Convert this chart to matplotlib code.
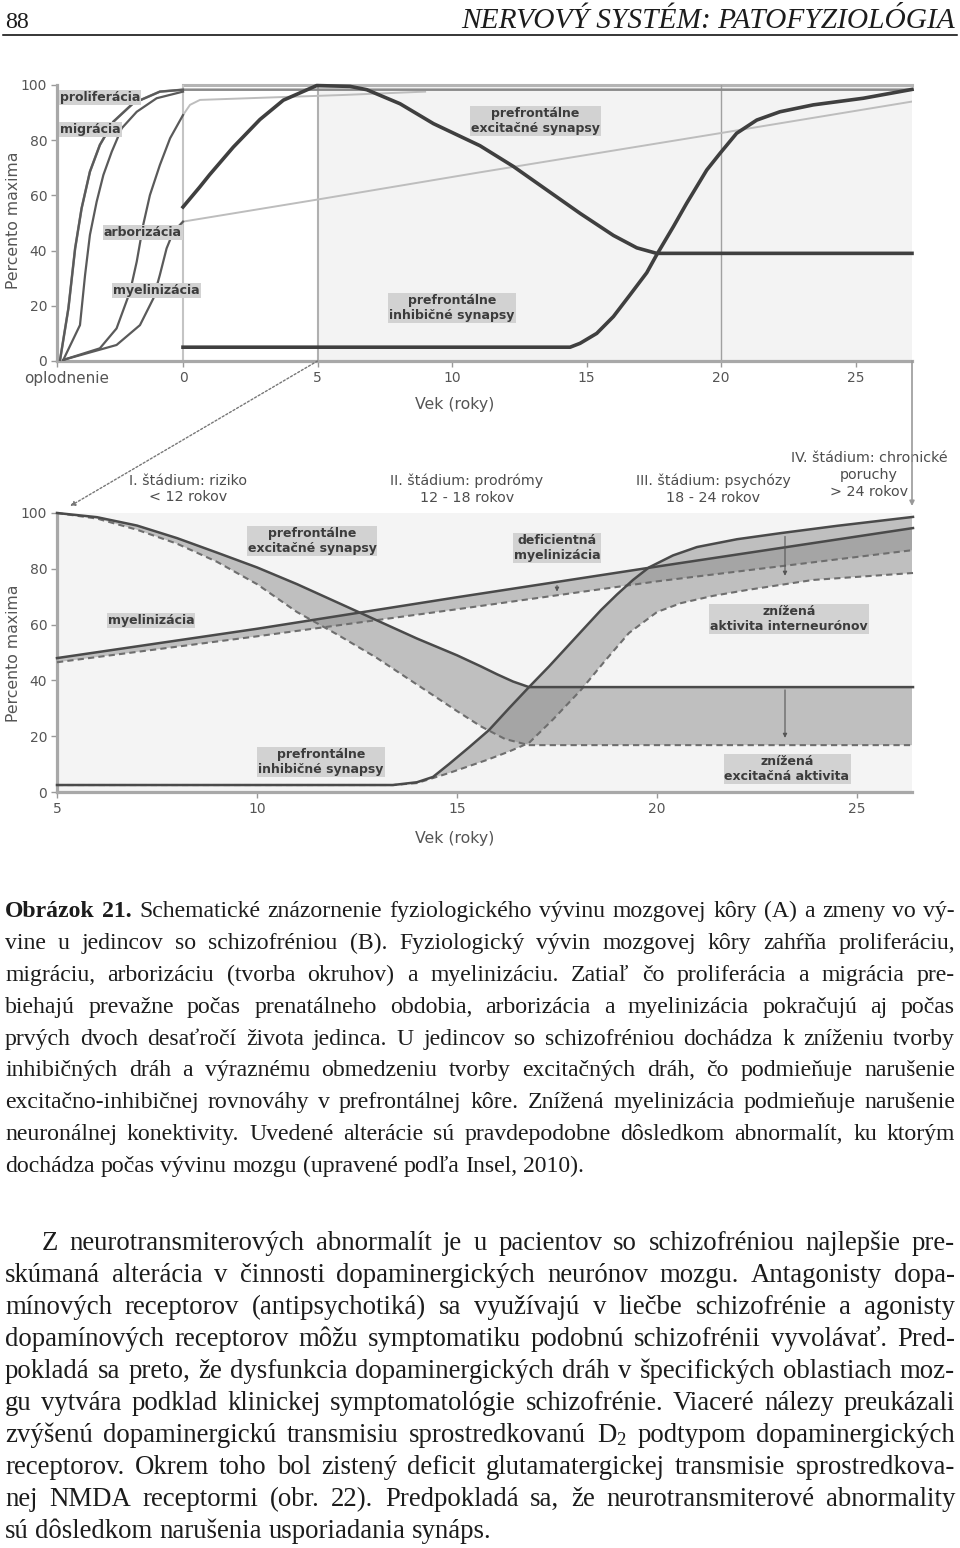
import matplotlib
matplotlib.use("Agg")
import matplotlib.pyplot as plt
import numpy as np
from matplotlib.patches import ConnectionPatch

W, H = 960, 1548
plt.rcParams['font.family'] = ['DejaVu Sans']
plt.rcParams['mathtext.fontset'] = 'custom'
plt.rcParams['mathtext.rm'] = 'Liberation Serif'
plt.rcParams['mathtext.it'] = 'Liberation Serif:italic'

# ---------------- chart A: normal development ----------------
a_ticks = [0, 5, 10, 15, 20, 25]
a_yticks = [0, 20, 40, 60, 80, 100]
prolif_x = [-4.57, -4.26, -4.01, -3.77, -3.46, -3.09, -2.59, -1.85, -0.86, 0.0, 27.1]
prolif_y = [0.4, 19.1, 40.8, 55.3, 68.6, 78.3, 86.7, 93.4, 97.6, 98.3, 98.3]
migr_x = [-4.45, -3.83, -3.64, -3.46, -3.21, -2.96, -2.65, -2.28, -1.72, -0.98, 0.0]
migr_y = [0.4, 13.0, 31.2, 45.7, 57.7, 67.4, 75.8, 84.3, 90.3, 95.2, 97.6]
arbor_x = [-4.45, -3.09, -2.47, -1.97, -1.72, -1.48, -1.23, -0.86, -0.48, 0.0]
arbor_y = [0.4, 4.6, 11.8, 25.1, 36.0, 49.3, 60.1, 71.0, 80.7, 89.1]
arbor_post_x = [0.0, 0.26, 0.63, 3, 6, 9]
arbor_post_y = [89.1, 92.8, 94.6, 95.4, 96.4, 97.6]
myel_pre_x = [-4.45, -2.47, -1.60, -1.10, -0.86, -0.61, -0.36, 0.0]
myel_pre_y = [0.4, 5.8, 13.0, 22.7, 31.2, 40.8, 46.8, 50.5]
myel_post_x = [0, 5, 11, 20, 27.1]
myel_post_y = [50.5, 58.5, 68.3, 82.6, 94]
exc_a_x = [0, 0.62, 0.99, 1.87, 2.86, 3.73, 4.97, 6.21, 6.83, 8.07, 9.31, 11.04,
           12.28, 13.52, 14.76, 16.0, 16.87, 17.61, 27.1]
exc_a_y = [55.8, 63.0, 67.5, 77.5, 87.5, 94.5, 99.8, 99.5, 98.3, 93.2, 86, 78,
           70.5, 62, 53.5, 45.5, 41, 39, 39]
inh_a_x = [0, 14.39, 14.76, 15.38, 16.0, 16.62, 17.24, 17.61, 18.23, 18.72, 19.47,
           19.96, 20.58, 21.33, 22.19, 23.43, 25.29, 27.1]
inh_a_y = [5.0, 5.0, 6.4, 10, 16.1, 24.0, 32.0, 38.5, 48.7, 57.1, 69.2,
           75.2, 82.5, 87.3, 90.3, 92.8, 95.2, 98.4]

# ---------------- chart B: schizophrenia ----------------
b_ticks = [5, 10, 15, 20, 25]
exc_n_x = [5, 6, 7, 8, 9, 10, 11, 12, 13, 14, 15, 15.6, 16.0, 16.4, 16.8, 26.4]
exc_n_y = [100, 98.5, 95.5, 91, 85.8, 80.5, 74.5, 68, 61.5, 55, 49, 45, 42.2, 39.6, 37.6, 37.6]
exc_d_x = [5, 6, 7, 8, 9, 10, 11, 12, 13, 14, 15, 15.6, 16.2, 16.8, 26.4]
exc_d_y = [100, 98, 94, 89, 82.5, 74.5, 64.5, 56.5, 48, 38.5, 29, 23.5, 19, 16.8, 16.8]
myel_n_x = [5, 10, 15, 20, 26.4]
myel_n_y = [48, 58.5, 69.8, 80.8, 94.6]
myel_d_x = [5, 10, 15, 20, 26.4]
myel_d_y = [46.5, 55.8, 65.5, 75.5, 86.7]
inh_n_x = [5, 13.4, 14, 14.4, 14.8, 15.3, 15.8, 16.3, 16.8, 17.3, 17.75, 18.2, 18.6,
           19.0, 19.4, 19.8, 20.4, 21.0, 22, 23.1, 24.5, 26.4]
inh_n_y = [2.5, 2.5, 3.5, 5.4, 10, 16, 22.2, 30, 37.6, 45, 52, 59, 65.2,
           70.8, 76, 80.5, 84.8, 87.8, 90.6, 92.8, 95.4, 98.6]
inh_d_x = [5, 13.4, 14, 14.8, 15.75, 16.3, 16.8, 17.4, 18.1, 18.7, 19.3, 20, 20.6,
           21.4, 22.25, 23.9, 26.4]
inh_d_y = [2.5, 2.5, 3.2, 6.8, 11.5, 14.5, 17.6, 26, 36.6, 47, 57, 64.5, 67.7,
           70.3, 72.4, 76, 78.5]

caption_lines = [
    "Obrázok 21. Schematické znázornenie fyziologického vývinu mozgovej kôry (A) a zmeny vo vý-",
    "vine u jedincov so schizofréniou (B). Fyziologický vývin mozgovej kôry zahŕňa proliferáciu,",
    "migráciu, arborizáciu (tvorba okruhov) a myelinizáciu. Zatiaľ čo proliferácia a migrácia pre-",
    "biehajú prevažne počas prenatálneho obdobia, arborizácia a myelinizácia pokračujú aj počas",
    "prvých dvoch desaťročí života jedinca. U jedincov so schizofréniou dochádza k zníženiu tvorby",
    "inhibičných dráh a výraznému obmedzeniu tvorby excitačných dráh, čo podmieňuje narušenie",
    "excitačno-inhibičnej rovnováhy v prefrontálnej kôre. Znížená myelinizácia podmieňuje narušenie",
    "neuronálnej konektivity. Uvedené alterácie sú pravdepodobne dôsledkom abnormalít, ku ktorým",
    "dochádza počas vývinu mozgu (upravené podľa Insel, 2010).",
]
body_lines = [
    "Z neurotransmiterových abnormalít je u pacientov so schizofréniou najlepšie pre-",
    "skúmaná alterácia v činnosti dopaminergických neurónov mozgu. Antagonisty dopa-",
    "mínových receptorov (antipsychotiká) sa využívajú v liečbe schizofrénie a agonisty",
    "dopamínových receptorov môžu symptomatiku podobnú schizofrénii vyvolávať. Pred-",
    "pokladá sa preto, že dysfunkcia dopaminergických dráh v špecifických oblastiach moz-",
    "gu vytvára podklad klinickej symptomatológie schizofrénie. Viaceré nálezy preukázali",
    "zvýšenú dopaminergickú transmisiu sprostredkovanú D$_2$ podtypom dopaminergických",
    "receptorov. Okrem toho bol zistený deficit glutamatergickej transmisie sprostredkova-",
    "nej NMDA receptormi (obr. 22). Predpokladá sa, že neurotransmiterové abnormality",
    "sú dôsledkom narušenia usporiadania synáps.",
]

fig = plt.figure(figsize=(W / 100, H / 100), dpi=100)
renderer = fig.canvas.get_renderer()


def fx(px):
    return px / W


def fy(py):
    return 1 - py / H


LAB = dict(fontsize=9, weight='bold', color='#3c3c3c', ha='center', va='center',
           linespacing=1.15,
           bbox=dict(boxstyle='square,pad=0.08', fc='#d2d2d2', ec='none'))
SOLID = dict(color='#4a4a4a', lw=1.8, clip_on=False, zorder=4)
DASH = dict(color='#6e6e6e', lw=1.5, ls=(0, (3, 2)), clip_on=False, zorder=4)


def style_axes(ax, ticks, labels):
    for s in ('top', 'right'):
        ax.spines[s].set_visible(False)
    for s in ('left', 'bottom'):
        ax.spines[s].set_color('#a8a8a8')
        ax.spines[s].set_linewidth(2.3)
    ax.set_xticks(ticks)
    ax.set_xticklabels(labels)
    ax.set_yticks(a_yticks)
    ax.tick_params(length=4, width=1, color='#999999', labelcolor='#555555',
                   labelsize=10, pad=3)


# ---- chart A ----
axA = fig.add_axes([fx(57), fy(361), fx(912 - 57), (361 - 85) / H])
axA.set_xlim(-4.684, 27.1)
axA.set_ylim(0, 100)
axA.axvspan(5, 27.1, color='#f3f3f3', zorder=0, lw=0)
axA.plot([0, 27.1], [100, 100], color='#b4b4b4', lw=2.2, clip_on=False, zorder=1)
axA.axvline(0, color='#c4c4c4', lw=1.5, zorder=1)
axA.axvline(5, color='#b0b0b0', lw=1.5, zorder=1)
axA.axvline(20, color='#a0a0a0', lw=1.0, zorder=1)
style_axes(axA, [-4.684] + a_ticks, [''] + [str(t) for t in a_ticks])

axA.plot(myel_post_x, myel_post_y, color='#bdbdbd', lw=1.4, zorder=2)
axA.plot(arbor_post_x, arbor_post_y, color='#bdbdbd', lw=1.4, zorder=2)
axA.plot(prolif_x, prolif_y, color='#8a8a8a', lw=1.8, zorder=3, clip_on=False)
for xs, ys in ((migr_x, migr_y), (arbor_x, arbor_y), (myel_pre_x, myel_pre_y)):
    axA.plot(xs, ys, color='#5a5a5a', lw=1.6, zorder=3)
axA.plot(prolif_x[:-1], prolif_y[:-1], color='#5a5a5a', lw=1.6, zorder=3)
axA.plot(exc_a_x, exc_a_y, color='#3f3f3f', lw=2.6, zorder=4, clip_on=False)
axA.plot(inh_a_x, inh_a_y, color='#3f3f3f', lw=2.6, zorder=4, clip_on=False)

axA.text(-4.57, 95.6, 'proliferácia', **dict(LAB, ha='left'))
axA.text(-4.57, 83.7, 'migrácia', **dict(LAB, ha='left'))
axA.text(-0.04, 46.4, 'arborizácia', **dict(LAB, ha='right'))
axA.text(-0.98, 25.7, 'myelinizácia', **LAB)
axA.text(10.0, 19.2, 'prefrontálne\ninhibičné synapsy', **LAB)
axA.text(13.1, 87.0, 'prefrontálne\nexcitačné synapsy', **LAB)
fig.text(fx(67), fy(379), 'oplodnenie', fontsize=11, color='#555555', ha='center', va='center')
fig.text(fx(455), fy(405), 'Vek (roky)', fontsize=11.3, color='#555555', ha='center', va='center')
fig.text(fx(14), fy(220), 'Percento maxima', fontsize=11.3, color='#555555',
         ha='center', va='center', rotation=90)

# ---- chart B ----
axB = fig.add_axes([fx(57), fy(792), fx(912 - 57), (792 - 513) / H])
axB.set_xlim(5, 26.375)
axB.set_ylim(0, 100)
axB.set_facecolor('#f4f4f4')
style_axes(axB, b_ticks, [str(t) for t in b_ticks])

BAND = dict(color='#8c8c8c', alpha=0.5, lw=0, zorder=2)
axB.fill(np.r_[exc_n_x, exc_d_x[::-1]], np.r_[exc_n_y, exc_d_y[::-1]], **BAND)
axB.fill(np.r_[myel_n_x, myel_d_x[::-1]], np.r_[myel_n_y, myel_d_y[::-1]], **BAND)
axB.fill(np.r_[inh_n_x, inh_d_x[::-1]], np.r_[inh_n_y, inh_d_y[::-1]], **BAND)
for xs, ys in ((exc_d_x, exc_d_y), (myel_d_x, myel_d_y), (inh_d_x, inh_d_y)):
    axB.plot(xs, ys, **DASH)
for xs, ys in ((exc_n_x, exc_n_y), (myel_n_x, myel_n_y), (inh_n_x, inh_n_y)):
    axB.plot(xs, ys, **SOLID)

ARR = dict(arrowstyle='-|>', color='#555555', lw=0.8, mutation_scale=6)
axB.annotate('', xy=(23.2, 76.5), xytext=(23.2, 92.6), arrowprops=ARR, zorder=5)
axB.annotate('', xy=(23.2, 18.4), xytext=(23.2, 37.6), arrowprops=ARR, zorder=5)
axB.annotate('', xy=(17.5, 70.8), xytext=(17.5, 75.0), arrowprops=ARR, zorder=5)

axB.text(11.375, 90.0, 'prefrontálne\nexcitačné synapsy', **LAB)
axB.text(7.35, 61.6, 'myelinizácia', **LAB)
axB.text(11.6, 10.8, 'prefrontálne\ninhibičné synapsy', **LAB)
axB.text(17.5, 87.5, 'deficientná\nmyelinizácia', **LAB)
axB.text(23.3, 62.0, 'znížená\naktivita interneurónov', **LAB)
axB.text(23.25, 8.2, 'znížená\nexcitačná aktivita', **LAB)

STG = dict(fontsize=10.3, color='#4d4d4d', ha='center', va='center', linespacing=1.25)
axB.text(8.28, 108.6, 'I. štádium: riziko\n< 12 rokov', **STG)
axB.text(15.25, 108.6, 'II. štádium: prodrómy\n12 - 18 rokov', **STG)
axB.text(21.4, 108.6, 'III. štádium: psychózy\n18 - 24 rokov', **STG)
axB.text(25.3, 113.6, 'IV. štádium: chronické\nporuchy\n> 24 rokov', **STG)
fig.text(fx(455), fy(838), 'Vek (roky)', fontsize=11.3, color='#555555', ha='center', va='center')
fig.text(fx(14), fy(653), 'Percento maxima', fontsize=11.3, color='#555555',
         ha='center', va='center', rotation=90)

# connectors between the two charts
fig.add_artist(ConnectionPatch(xyA=(5, 0), coordsA=axA.transData, xyB=(5.33, 102.5),
                               coordsB=axB.transData, arrowstyle='-|>', mutation_scale=7,
                               color='#777777', lw=1.0, linestyle=(0, (1.5, 1.5))))
fig.add_artist(ConnectionPatch(xyA=(27.1, 0), coordsA=axA.transData, xyB=(26.375, 102.5),
                               coordsB=axB.transData, arrowstyle='-|>', mutation_scale=7,
                               color='#999999', lw=1.2))

# ---- page text ----
SERIF = 'Liberation Serif'
INK = '#1c1c1c'


def measure(s, size, bold=False):
    t = fig.text(0, 0, s, fontsize=size, family=SERIF, weight='bold' if bold else 'normal')
    w = t.get_window_extent(renderer).width
    t.remove()
    return w


def fit_size(lines, x0s, x1, base=14.0, first_bold=0):
    ratio = 10.0
    for i, line in enumerate(lines[:-1]):
        words = line.split(' ')
        nat = sum(measure(w, base, bold=(i == 0 and k < first_bold))
                  for k, w in enumerate(words)) + 0.25 * base * 100 / 72 * (len(words) - 1)
        ratio = min(ratio, (x1 - x0s[i]) / nat)
    return base * ratio * 0.99


def text_line(line, x0, x1, ybase, size, justify, n_bold=0):
    words = line.split(' ')
    items = [fig.text(0, 0, w, fontsize=size, family=SERIF, color=INK,
                      weight='bold' if k < n_bold else 'normal',
                      ha='left', va='baseline') for k, w in enumerate(words)]
    widths = [t.get_window_extent(renderer).width for t in items]
    gap = 0.25 * size * 100 / 72
    if justify and len(words) > 1:
        gap = (x1 - x0 - sum(widths)) / (len(words) - 1)
    x = x0
    for t, wd in zip(items, widths):
        t.set_position((fx(x), fy(ybase)))
        x += wd + gap


fig.text(fx(5), fy(28), '88', fontsize=17.3, family=SERIF, color=INK, ha='left', va='baseline')
hdr = fig.text(fx(955), fy(28), 'NERVOVÝ SYSTÉM: PATOFYZIOLÓGIA', fontsize=18,
               family=SERIF, style='italic', color=INK, ha='right', va='baseline')
hdr.set_fontsize(18 * (955 - 463) / hdr.get_window_extent(renderer).width)
fig.add_artist(plt.Line2D([fx(3), fx(957)], [fy(35), fy(35)], color='black', lw=1.1))

cap_size = fit_size(caption_lines, [5] * len(caption_lines), 955, first_bold=2)
for i, line in enumerate(caption_lines):
    text_line(line, 5, 955, round(917 + 31.9 * i), cap_size, i < len(caption_lines) - 1,
              n_bold=2 if i == 0 else 0)

body_x0 = [42] + [5] * (len(body_lines) - 1)
body_size = fit_size(body_lines, body_x0, 955)
for i, line in enumerate(body_lines):
    text_line(line, body_x0[i], 955, 1250 + 32 * i, body_size, i < len(body_lines) - 1)

fig.savefig('out.png', dpi=100)
